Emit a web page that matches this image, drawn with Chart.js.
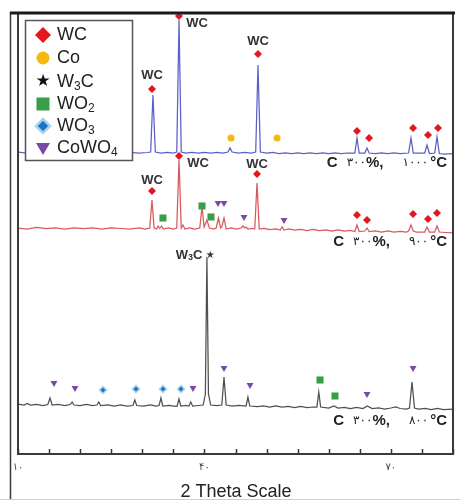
<!DOCTYPE html>
<html>
<head>
<meta charset="utf-8">
<script src="https://cdn.jsdelivr.net/npm/chart.js@4.4.0/dist/chart.umd.min.js"></script>
<style>
  html, body { margin: 0; padding: 0; background: #fff; }
  canvas { display: block; }
</style>
</head>
<body>
<canvas id="xrd" width="460" height="500"></canvas>
<script>
// 2-theta / intensity (a.u., traces are stacked as in the figure)
var blueTheta = [10, 11.5, 13, 14.5, 16, 17.5, 19, 20.5, 22, 23.5, 25, 26.5, 28, 29.5, 30.8, 31.35, 31.72, 32.1, 33, 34, 35, 35.55, 35.91, 36.27, 37, 38, 39, 40, 41, 42, 43, 43.8, 44.12, 44.45, 45.5, 46.5, 47.5, 48.25, 48.62, 49, 50, 51, 52, 53, 54, 55, 56, 57, 58, 59, 60, 61, 62, 63, 64.2, 64.55, 64.9, 65.8, 66.16, 66.5, 67.5, 68.5, 69.5, 70.5, 71.5, 72.85, 73.24, 73.6, 75.45, 75.82, 76.2, 77.05, 77.43, 77.8, 78.5, 80];
var blueCounts = [302, 301, 302, 301, 301.5, 301, 302, 301, 301.5, 301, 302, 301, 301.5, 301, 301.5, 302, 359, 302, 301, 301.5, 301, 302, 434, 302, 301, 301.5, 301, 301.5, 301, 301.5, 301, 302, 306, 302, 301, 301.5, 301, 302, 389, 302, 301, 301.5, 300.5, 301, 300.5, 301, 300.5, 301, 300.5, 301, 300.5, 301, 300.5, 301, 301, 316, 301, 301, 306, 301, 300.5, 301, 300.5, 301, 300.5, 301, 316, 301, 301, 309, 300.5, 301, 317, 300.5, 300, 300.5];

var redTheta = [10, 11.5, 13, 14.5, 16, 17.5, 19, 20.5, 22, 23.5, 25, 26.5, 28, 29.5, 30.5, 31.2, 31.56, 31.9, 32.3, 32.55, 32.8, 33.1, 33.4, 34.2, 35, 35.55, 35.91, 36.27, 36.55, 36.85, 37.6, 38.4, 39.25, 39.61, 39.95, 40.4, 40.8, 41.5, 41.9, 42.25, 42.6, 42.8, 43.15, 43.5, 44.3, 45.2, 45.9, 46.2, 46.5, 46.7, 47, 47.7, 48.1, 48.46, 48.82, 49.6, 50.5, 51.5, 52.2, 52.5, 52.8, 53.6, 54.5, 55.5, 56.5, 57.5, 58.5, 59.5, 60.5, 61.5, 62.5, 63.5, 64.2, 64.55, 64.9, 65.8, 66.16, 66.5, 67.5, 68.5, 69.5, 70.5, 71.5, 72.5, 72.85, 73.24, 73.6, 74.1, 75.45, 75.82, 76.2, 77.05, 77.43, 77.8, 78.8, 80];
var redCounts = [226, 225, 226.5, 225.5, 226, 225, 226, 225.5, 226, 225, 226, 225.5, 225, 226, 225, 226, 254, 226, 225, 228, 225.5, 228, 225, 226, 225, 226, 294, 226, 229, 225, 226, 225, 226, 247, 227, 234, 226, 225, 226, 236, 226, 227, 236, 225, 226, 225, 226, 228, 226, 227, 225, 225.5, 225, 271, 225, 225.5, 224.5, 225, 224, 227, 224, 225, 224, 224.5, 223.5, 224.5, 223.5, 224, 223, 224, 223, 223.5, 222.5, 229, 222.5, 223, 226, 222.5, 223, 222, 223, 222, 222.5, 222, 223, 229, 223, 222, 222, 227, 222, 222, 228, 222, 221.5, 221];

var blackTheta = [10, 11, 11.5, 12, 13, 14, 14.8, 15.15, 15.5, 16.5, 17.5, 18.4, 18.7, 19, 20, 21, 22, 22.7, 23, 23.3, 24.5, 25.5, 26.5, 27.5, 28.5, 28.8, 29.1, 30.2, 31.3, 32.2, 32.7, 33, 33.3, 34.3, 35, 35.6, 35.9, 36.2, 37, 37.5, 37.8, 38.1, 39, 39.8, 40.15, 40.4, 40.65, 41, 42, 42.8, 43.15, 43.5, 44.5, 45.5, 46.7, 47, 47.3, 48.5, 49.5, 50.5, 51.5, 52.5, 53.5, 54.5, 55.5, 56.5, 57.5, 58.1, 58.4, 58.7, 60, 60.85, 61.5, 62.5, 63.5, 64.5, 65.5, 66.2, 67, 68, 69, 70, 70.8, 71.5, 72.5, 73, 73.4, 73.8, 74.5, 75.5, 76.5, 77.5, 78.5, 80];
var blackCounts = [50, 49, 50.5, 49, 49.5, 48.5, 49.5, 56, 49, 49.5, 48.5, 49.5, 52, 49, 48.5, 49.5, 48.5, 49, 52, 48.5, 49, 48, 49, 48, 48.5, 54, 48.5, 48, 49, 48, 48.5, 56, 48, 48.5, 48, 48, 55, 48, 48.5, 48, 52, 48, 48.5, 49, 60, 197, 60, 49, 48.5, 49, 77, 49, 48, 48.5, 48, 57, 48, 47.5, 48, 47, 48, 47, 47.5, 46.5, 47.5, 46.5, 47, 47, 62, 47, 46, 48, 46, 46.5, 45.5, 46.5, 45.5, 48, 45.5, 46, 45, 46, 47, 45.5, 45, 46, 72, 46, 45, 45.5, 44.5, 45.5, 44.5, 45];

// phase markers
var wcTheta = [31.56, 35.91, 48.62, 64.55, 66.49, 73.57, 75.98, 77.59, 31.56, 35.91, 48.46, 64.55, 66.16, 73.57, 75.98, 77.43];
var wcLevel = [365, 438, 400, 323, 316, 326, 319, 326, 263, 298, 280, 239, 234, 240, 235, 241];
var coTheta = [44.28, 51.68];
var coLevel = [316, 316];
var wo2Theta = [33.33, 39.61, 41.06, 58.6, 61.01];
var wo2Level = [236, 248, 237, 74, 58];
var wo3Theta = [23.68, 28.99, 33.33, 36.23];
var wo3Level = [64, 65, 65, 65];
var cowo4Theta = [42.19, 43.15, 46.37, 52.81, 15.79, 19.17, 38.16, 43.15, 47.33, 66.16, 73.57];
var cowo4Level = [251, 251, 237, 234, 71, 66, 66, 86, 69, 60, 86];

// peak labels
var wcLabelTheta = [31.56, 38.8, 48.62, 31.56, 38.97, 48.46];
var wcLabelLevel = [379, 431, 413, 274, 291, 290];
var w3cLabelTheta = 35.4;
var w3cLabelLevel = 199;

// sample conditions (carbon %, temperature), one per trace
var sampleCarbon = ['۳۰۰', '۳۰۰', '۳۰۰'];
var sampleTemp = ['۱۰۰۰', '۹۰۰', '۸۰۰'];
var sampleLevel = [291, 212, 33];

var tickValues = [10, 40, 70];
var tickText = ['۱۰', '۴۰', '۷۰'];

var legendNames = [['WC', ''], ['Co', ''], ['W', '3', 'C'], ['WO', '2'], ['WO', '3'], ['CoWO', '4']];

var FONT = '"Liberation Sans", Arial, sans-serif';

function pts(xs, ys) {
  return xs.map(function (v, i) { return { x: v, y: ys[i] }; });
}

function trace(data, color) {
  return { data: data, showLine: true, borderColor: color, borderWidth: 1.25, pointRadius: 0, tension: 0 };
}

function marks(data, style, color, r, extra) {
  var d = { data: data, showLine: false, pointStyle: style, pointRadius: r, backgroundColor: color,
    borderColor: color, borderWidth: 0, clip: false };
  return Object.assign(d, extra || {});
}

// draws segments [text, font, dy] from left to right
function drawRun(ctx, segs, x, y) {
  ctx.textAlign = 'left';
  segs.forEach(function (s) {
    ctx.font = s[1];
    ctx.fillText(s[0], x, y + (s[2] || 0));
    x += ctx.measureText(s[0]).width;
  });
}

function symbol(ctx, kind, cx, cy) {
  ctx.beginPath();
  if (kind === 0) {
    ctx.fillStyle = '#e3171e';
    ctx.moveTo(cx, cy - 8); ctx.lineTo(cx + 8, cy); ctx.lineTo(cx, cy + 8); ctx.lineTo(cx - 8, cy);
    ctx.closePath(); ctx.fill();
  } else if (kind === 1) {
    ctx.fillStyle = '#f6b90f';
    ctx.arc(cx, cy, 6.5, 0, Math.PI * 2); ctx.fill();
  } else if (kind === 2) {
    ctx.fillStyle = '#111';
    ctx.font = '17px "DejaVu Sans", sans-serif';
    ctx.textAlign = 'center'; ctx.textBaseline = 'middle';
    ctx.fillText('★', cx, cy);
  } else if (kind === 3) {
    ctx.fillStyle = '#3a9e48';
    ctx.fillRect(cx - 6.5, cy - 6.5, 13, 13);
  } else if (kind === 4) {
    ctx.fillStyle = '#1c74c4'; ctx.strokeStyle = '#a6d3f2'; ctx.lineWidth = 2.5;
    ctx.moveTo(cx, cy - 7); ctx.lineTo(cx + 7, cy); ctx.lineTo(cx, cy + 7); ctx.lineTo(cx - 7, cy);
    ctx.closePath(); ctx.fill(); ctx.stroke();
  } else {
    ctx.fillStyle = '#7b48a8';
    ctx.moveTo(cx - 7, cy - 5); ctx.lineTo(cx + 7, cy - 5); ctx.lineTo(cx, cy + 7);
    ctx.closePath(); ctx.fill();
  }
}

var decor = {
  id: 'decor',
  afterDatasetsDraw: function (chart) {
    var ctx = chart.ctx, a = chart.chartArea, x = chart.scales.x, y = chart.scales.y;
    ctx.save();

    // WC labels over the main peaks
    ctx.fillStyle = '#333';
    ctx.font = 'bold 13px ' + FONT;
    ctx.textAlign = 'center';
    ctx.textBaseline = 'middle';
    wcLabelTheta.forEach(function (t, i) {
      ctx.fillText('WC', x.getPixelForValue(t), y.getPixelForValue(wcLabelLevel[i]));
    });

    // W3C label with star
    drawRun(ctx, [['W', 'bold 13px ' + FONT], ['3', 'bold 9px ' + FONT, 3], ['C', 'bold 13px ' + FONT],
      [' ★', '10px "DejaVu Sans", sans-serif']],
      x.getPixelForValue(w3cLabelTheta), y.getPixelForValue(w3cLabelLevel));

    // sample conditions, right aligned
    var bold = 'bold 15px ' + FONT, small = '12px "DejaVu Sans", sans-serif';
    sampleTemp.forEach(function (temp, i) {
      var py = y.getPixelForValue(sampleLevel[i]);
      var r = x.getPixelForValue(79.05);
      ctx.textAlign = 'right';
      ctx.fillStyle = '#222';
      ctx.font = bold; ctx.fillText('°C', r, py); r -= ctx.measureText('°C').width + 2;
      ctx.font = small; ctx.fillText(temp, r, py); r -= ctx.measureText(temp).width + 19;
      ctx.font = bold; ctx.fillText('%,', r, py); r -= ctx.measureText('%,').width;
      ctx.font = small; ctx.fillText(sampleCarbon[i], r, py); r -= ctx.measureText(sampleCarbon[i]).width + 9;
      ctx.font = bold; ctx.fillText('C', r, py);
    });

    // legend box
    ctx.fillStyle = '#fff';
    ctx.fillRect(25, 20, 108, 141);
    ctx.strokeStyle = '#555';
    ctx.lineWidth = 1.5;
    ctx.strokeRect(25.5, 20.5, 107, 140);
    var rows = [35, 58, 82, 104, 126, 148];
    legendNames.forEach(function (n, i) {
      symbol(ctx, i, 43, rows[i]);
      ctx.fillStyle = '#222';
      ctx.textBaseline = 'middle';
      var segs = [[n[0], '18px ' + FONT]];
      if (n[1]) segs.push([n[1], '12px ' + FONT, 5]);
      if (n[2]) segs.push([n[2], '18px ' + FONT]);
      drawRun(ctx, segs, 57, rows[i]);
    });

    // inward tick marks
    ctx.strokeStyle = '#333';
    ctx.lineWidth = 1.5;
    x.ticks.forEach(function (t) {
      var px = Math.round(x.getPixelForValue(t.value)) + 0.5;
      ctx.beginPath(); ctx.moveTo(px, a.bottom); ctx.lineTo(px, a.bottom - 5); ctx.stroke();
    });

    // frames
    ctx.strokeStyle = '#3a3a3a';
    ctx.lineWidth = 2;
    ctx.beginPath();
    ctx.moveTo(a.left, a.top); ctx.lineTo(a.left, a.bottom); ctx.lineTo(a.right, a.bottom); ctx.lineTo(a.right, a.top - 1);
    ctx.stroke();
    ctx.lineWidth = 1.5;
    ctx.beginPath(); ctx.moveTo(10.5, 12); ctx.lineTo(10.5, 500); ctx.stroke();
    ctx.strokeStyle = '#1a1a1a';
    ctx.lineWidth = 3;
    ctx.beginPath(); ctx.moveTo(10, 13); ctx.lineTo(455, 13); ctx.stroke();
    ctx.strokeStyle = '#d0d0d0';
    ctx.lineWidth = 1;
    ctx.beginPath(); ctx.moveTo(0, 499.5); ctx.lineTo(460, 499.5); ctx.stroke();

    // axis title
    ctx.fillStyle = '#222';
    ctx.font = '18px ' + FONT;
    ctx.textAlign = 'center';
    ctx.textBaseline = 'alphabetic';
    ctx.fillText('2 Theta Scale', 236, 497);
    ctx.restore();
  }
};

new Chart(document.getElementById('xrd').getContext('2d'), {
  type: 'scatter',
  data: {
    datasets: [
      marks(pts(wcTheta, wcLevel), 'rectRot', '#e3171e', 4),
      marks(pts(coTheta, coLevel), 'circle', '#f6b90f', 3.5),
      marks(pts(wo2Theta, wo2Level), 'rect', '#3a9e48', 5),
      marks(pts(wo3Theta, wo3Level), 'rectRot', '#1c74c4', 3.5, { borderColor: '#a6d3f2', borderWidth: 1.5 }),
      marks(pts(cowo4Theta, cowo4Level), 'triangle', '#7b48a8', 4, { rotation: 180 }),
      trace(pts(blueTheta, blueCounts), '#5c60c8'),
      trace(pts(redTheta, redCounts), '#d8585e'),
      trace(pts(blackTheta, blackCounts), '#505050')
    ]
  },
  options: {
    responsive: false,
    animation: false,
    layout: { padding: { left: 18, right: 7, top: 14, bottom: 0 } },
    plugins: { legend: { display: false }, tooltip: { enabled: false } },
    scales: {
      x: {
        type: 'linear', min: 10, max: 80,
        grid: { display: false, drawTicks: false },
        border: { display: false },
        ticks: {
          stepSize: 5, autoSkip: false, maxRotation: 0, padding: 7,
          color: '#444', font: { size: 10, family: '"DejaVu Sans", sans-serif' },
          callback: function (v) {
            var k = tickValues.indexOf(v);
            return k < 0 ? '' : tickText[k];
          }
        },
        afterFit: function (s) { s.height = 46; }
      },
      y: { display: false, min: 0, max: 440 }
    }
  },
  plugins: [decor]
});
</script>
</body>
</html>
